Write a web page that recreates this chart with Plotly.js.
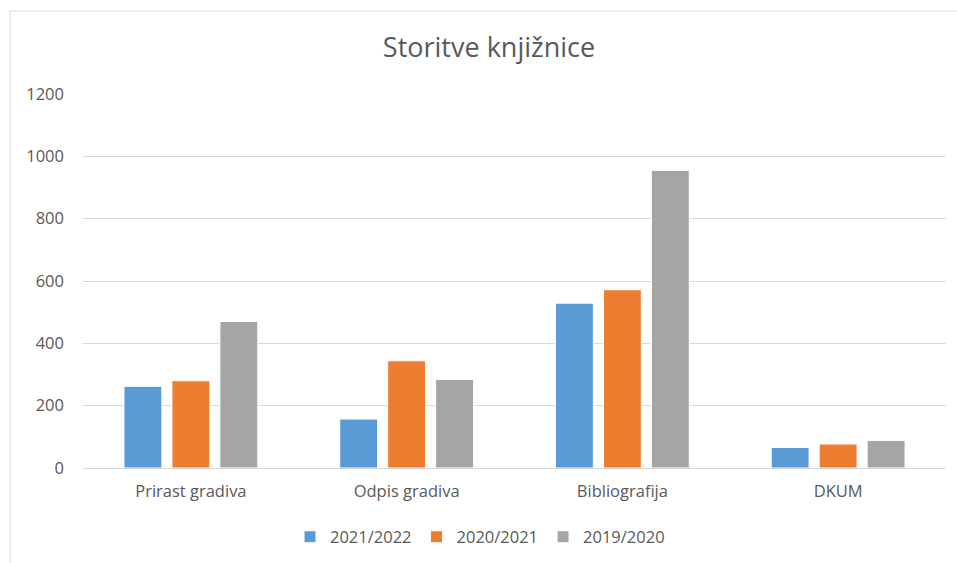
<!DOCTYPE html>
<html>
<head>
<meta charset="utf-8">
<script src="https://cdn.plot.ly/plotly-3.0.1.min.js"></script>
<style>
html,body{margin:0;padding:0;background:#fff;}
#chart{width:957px;height:563px;}
</style>
</head>
<body>
<div id="chart"></div>
<script>
const categories = ["Prirast gradiva", "Odpis gradiva", "Bibliografija", "DKUM"];
const seriesNames = ["2021/2022", "2020/2021", "2019/2020"];
const values2021_2022 = [262, 157, 529, 66];
const values2020_2021 = [280, 344, 572, 77];
const values2019_2020 = [470, 284, 955, 88];
const yTicks = [0, 200, 400, 600, 800, 1000, 1200];

const colors = ["#5B9BD5", "#ED7D31", "#A5A5A5"];
const seriesValues = [values2021_2022, values2020_2021, values2019_2020];
const FONT = "'Open Sans', sans-serif";
const FS = 16.5;

const traces = seriesNames.map((name, i) => ({
  type: "bar",
  name: name,
  x: categories,
  y: seriesValues[i],
  marker: {color: colors[i], line: {color: "#ffffff", width: 1}},
  hoverinfo: "x+y+name"
}));

const W = 957, H = 563;
const m = {l: 83, r: 11, t: 94, b: 95, autoexpand: false};
const pw = W - m.l - m.r, ph = H - m.t - m.b;
function px2x(p){ return (p - m.l) / pw; }
function py2y(p){ return (H - m.b - p) / ph; }

const layout = {
  width: W, height: H,
  margin: m,
  paper_bgcolor: "#ffffff",
  plot_bgcolor: "#ffffff",
  font: {family: FONT, color: "#595959", size: FS},
  title: {
    text: "Storitve knjižnice",
    font: {family: FONT, size: 27, color: "#595959"},
    x: 489 / W, xref: "container", xanchor: "center",
    y: 1 - 48 / H, yref: "container", yanchor: "middle"
  },
  barmode: "group",
  bargap: 0.333,
  bargroupgap: 0.21,
  xaxis: {
    type: "category",
    showgrid: false,
    showline: true, linecolor: "#D9D9D9", linewidth: 1,
    ticks: "",
    ticklabelstandoff: 8,
    tickfont: {family: FONT, size: FS, color: "#595959"},
    fixedrange: true,
    automargin: false
  },
  yaxis: {
    range: [0, 1200],
    tickvals: yTicks,
    ticktext: yTicks.map(String),
    showgrid: true, gridcolor: "#D9D9D9", gridwidth: 1,
    zeroline: false,
    showline: false,
    ticks: "",
    ticklabelstandoff: 18,
    tickfont: {family: FONT, size: FS, color: "#595959"},
    fixedrange: true,
    automargin: false
  },
  legend: {
    orientation: "h",
    x: px2x(480), xanchor: "center",
    y: py2y(537), yanchor: "middle",
    font: {family: FONT, size: FS, color: "#595959"},
    itemwidth: 30,
    traceorder: "normal"
  },
  shapes: [
    {type: "line", xref: "paper", yref: "paper",
     x0: px2x(10), x1: px2x(957), y0: py2y(11), y1: py2y(11),
     line: {color: "#D9D9D9", width: 1}},
    {type: "line", xref: "paper", yref: "paper",
     x0: px2x(10), x1: px2x(10), y0: py2y(11), y1: py2y(563),
     line: {color: "#D9D9D9", width: 1}}
  ],
  showlegend: true
};

Plotly.newPlot("chart", traces, layout, {displayModeBar: false});
</script>
</body>
</html>
